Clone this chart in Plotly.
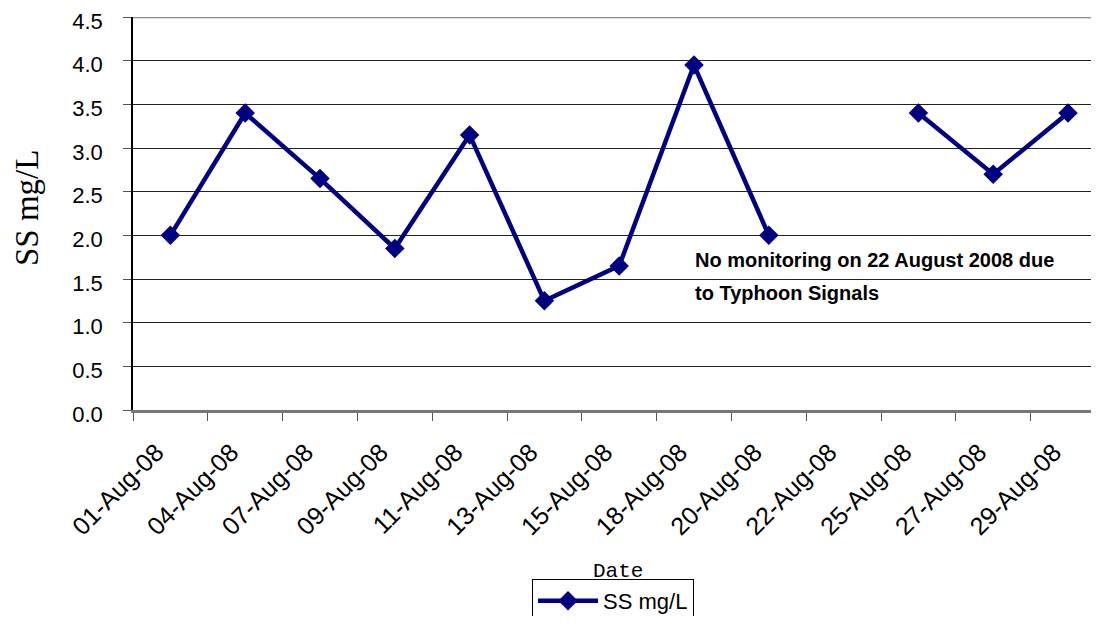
import plotly.graph_objects as go

dates = ["01-Aug-08", "04-Aug-08", "07-Aug-08", "09-Aug-08", "11-Aug-08", "13-Aug-08",
         "15-Aug-08", "18-Aug-08", "20-Aug-08", "22-Aug-08", "25-Aug-08", "27-Aug-08", "29-Aug-08"]
ss_values = [2.0, 3.4, 2.65, 1.85, 3.15, 1.25, 1.65, 3.95, 2.0, None, 3.4, 2.7, 3.4]
y_ticks = [0.0, 0.5, 1.0, 1.5, 2.0, 2.5, 3.0, 3.5, 4.0, 4.5]

navy = "#000080"
sans = "Liberation Sans, Arial"

# page body has an 8px default margin; figure sized to fit the 1099x624 window
W, H = 1083, 608
L, T, B = 125, 9, 206
plot_w = W - L
plot_h = H - T - B
cat_px = 74.8
y0_screen = 410  # screen y of the value 0


def px_to_paper_y(screen_y):
    return (y0_screen - screen_y) / plot_h


fig = go.Figure()
fig.add_trace(go.Scatter(
    x=dates, y=ss_values, mode="lines+markers", name="SS mg/L",
    line=dict(color=navy, width=4.5),
    marker=dict(symbol="diamond", size=15, color=navy),
    connectgaps=False,
))

fig.update_layout(
    width=W, height=H,
    margin=dict(l=L, r=0, t=T, b=B, autoexpand=False),
    plot_bgcolor="white", paper_bgcolor="white",
    font=dict(family=sans, size=22, color="black"),
    showlegend=True,
    legend=dict(
        x=(613 - 133) / plot_w, xanchor="center", y=px_to_paper_y(579), yanchor="top",
        bordercolor="black", borderwidth=1,
        font=dict(family=sans, size=22),
        itemwidth=60,
    ),
    xaxis=dict(
        type="category", range=[-0.5, -0.5 + plot_w / cat_px], automargin=False,
        tickson="boundaries", ticks="outside", ticklen=8, tickcolor="#555",
        tickangle=-45, showgrid=False,
        showline=True, linecolor="#777", linewidth=2.5,
        tickfont=dict(family=sans, size=25),
        ticklabelstandoff=15, ticklabelshift=-14,
    ),
    yaxis=dict(
        range=[0, 4.5], tickvals=y_ticks, ticktext=[f"{v:.1f}" for v in y_ticks],
        automargin=False, ticklabeloverflow="allow",
        ticks="outside", ticklen=8, tickcolor="#555",
        showgrid=True, gridcolor="#222", gridwidth=1,
        showline=True, linecolor="black", linewidth=1.5,
        zeroline=False,
        tickfont=dict(family=sans, size=22),
        ticklabelstandoff=16, ticklabelshift=4,
    ),
)

# grey top border of the plot area at 4.5
fig.add_shape(type="line", xref="paper", yref="y", x0=0, x1=1, y0=4.5, y1=4.5,
              line=dict(color="#888", width=2.5))

fig.add_annotation(
    text="SS mg/L", xref="paper", yref="paper", x=(27 - 133) / plot_w, y=px_to_paper_y(208),
    xanchor="center", yanchor="middle", showarrow=False, textangle=-90,
    font=dict(family="Liberation Serif, Times New Roman", size=33),
)
fig.add_annotation(
    text="Date", xref="paper", yref="paper", x=(618 - 133) / plot_w, y=px_to_paper_y(571),
    xanchor="center", yanchor="middle", showarrow=False,
    font=dict(family="Liberation Mono, Courier New", size=21),
)
fig.add_annotation(
    text="<b>No monitoring on 22 August 2008 due</b>", xref="paper", yref="y",
    x=(693 - 133) / plot_w, y=1.713, xanchor="left", yanchor="middle", showarrow=False,
    font=dict(family=sans, size=20),
)
fig.add_annotation(
    text="<b>to Typhoon Signals</b>", xref="paper", yref="y",
    x=(693 - 133) / plot_w, y=1.336, xanchor="left", yanchor="middle", showarrow=False,
    font=dict(family=sans, size=20),
)

fig.write_html("out.html")
